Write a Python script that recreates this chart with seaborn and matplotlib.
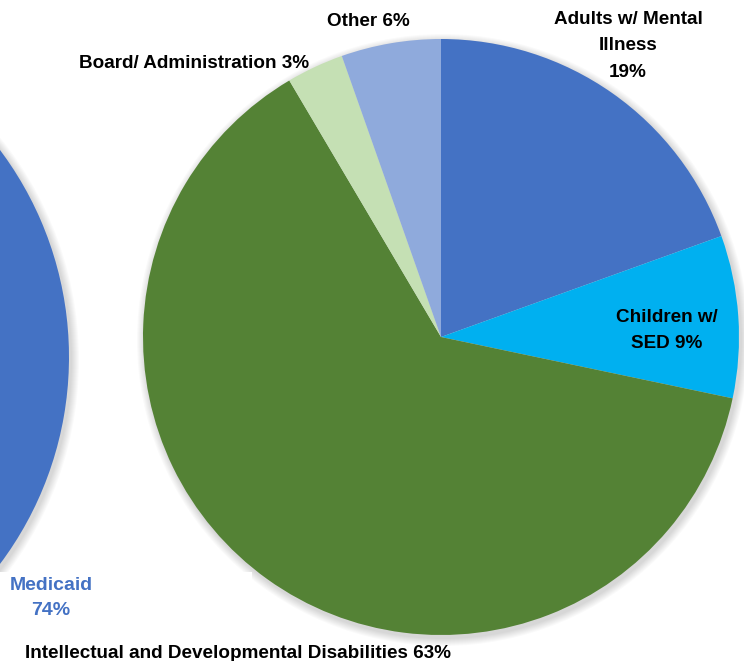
import numpy as np
import matplotlib
matplotlib.use("Agg")
import matplotlib.pyplot as plt
import seaborn as sns
from matplotlib.patches import Circle, Rectangle

# Budget shares (clockwise from 12 o'clock)
categories = ["Adults w/ Mental Illness", "Children w/ SED",
              "Intellectual and Developmental Disabilities",
              "Board/ Administration", "Other"]
shares = [19.5, 8.8, 63.2, 3.1, 5.4]
label_pct = ["19%", "9%", "63%", "3%", "6%"]
colors = ["#4472C4", "#00B0F0", "#548235", "#C5E0B4", "#8FAADC"]

# The neighbouring (cropped) funding pie on the left
medicaid_label = "Medicaid"
medicaid_pct = "74%"

sns.set_theme(style="white")
plt.rcParams["font.family"] = ["Liberation Sans", "DejaVu Sans"]

W, H = 744, 661
fig = plt.figure(figsize=(W / 100, H / 100), dpi=100)
ax = fig.add_axes([0, 0, 1, 1])
ax.set_xlim(0, W)
ax.set_ylim(0, H)
ax.axis("off")

def soft_shadow(cx, cy, r):
    # layered faint circles for a blurred drop shadow
    for k in range(8):
        ax.add_patch(Circle((cx + 2, cy - 3), r + 8 - k, color="black",
                            alpha=0.018, lw=0, zorder=0))

# left pie (only the Medicaid slice is visible)
lcx, lcy, lr = -276, H - 357, 345
soft_shadow(lcx, lcy, lr)
ax.pie([74, 26], colors=["#4472C4", "#4472C4"], startangle=90,
       counterclock=False, center=(lcx, lcy), radius=lr, frame=True,
       wedgeprops=dict(linewidth=0))

# main pie
cx, cy, r = 441, H - 337, 298
soft_shadow(cx, cy, r)
# white patch clipping part of the shadow, as in the pasted original
ax.add_patch(Rectangle((0, 0), 252, H - 572, color="white", lw=0, zorder=0.5))
ax.pie(shares, colors=colors, startangle=90, counterclock=False,
       center=(cx, cy), radius=r, frame=True,
       wedgeprops=dict(linewidth=0))
ax.set_xlim(0, W)
ax.set_ylim(0, H)
ax.set_aspect("auto")

fs = 13.6
txt = dict(fontsize=fs, fontweight="bold", color="black", zorder=10)
ax.text(628, H - 46, f"Adults w/ Mental\nIllness\n{label_pct[0]}",
        ha="center", va="center", linespacing=1.7, **txt)
ax.text(667, H - 330.5, f"Children w/\nSED {label_pct[1]}",
        ha="center", va="center", linespacing=1.65, **txt)
ax.text(25, H - 653, f"{categories[2]} {label_pct[2]}",
        ha="left", va="center", **txt)
ax.text(194, H - 63, f"{categories[3]} {label_pct[3]}",
        ha="center", va="center", **txt)
ax.text(368.5, H - 22, f"{categories[4]} {label_pct[4]}",
        ha="center", va="center", **txt)
ax.text(51, H - 598, f"{medicaid_label}\n{medicaid_pct}", ha="center",
        va="center", fontsize=14, fontweight="bold", color="#4472C4",
        linespacing=1.55, zorder=10)

fig.savefig("out.png", dpi=100)
